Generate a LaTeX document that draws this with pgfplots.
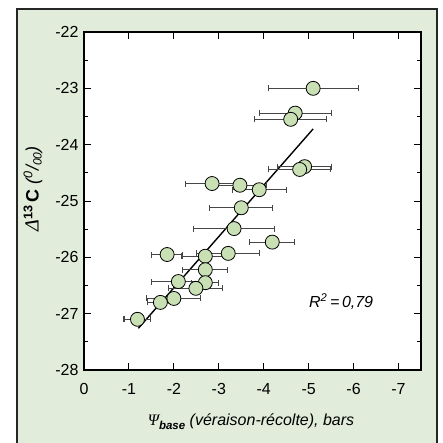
\documentclass[border=0pt]{standalone}
\usepackage{pgfplots}
\pgfplotsset{compat=1.18}
\usepackage{fontspec}
\setmainfont{Liberation Sans}
\newfontfamily\serif{Liberation Serif}
\definecolor{panel}{RGB}{226,236,218}
\definecolor{dotfill}{RGB}{200,224,180}
\definecolor{errgray}{RGB}{70,70,70}

\begin{document}
\begin{tikzpicture}[x=1pt,y=1pt]
\useasboundingbox (0,0) rectangle (442,-443);
\fill[panel] (17,-9) rectangle (437,-460);
\draw[line width=2pt, black!85] (17,-460) -- (17,-9) -- (437,-9) -- (437,-460);

\begin{axis}[
    at={(84pt,-370pt)}, anchor=south west,
    scale only axis,
    width=337pt, height=338pt,
    x dir=reverse,
    xmin=-7.5, xmax=0,
    ymin=-28, ymax=-22,
    xtick={0,-1,-2,-3,-4,-5,-6,-7},
    ytick={-28,-27,-26,-25,-24,-23,-22},
    minor y tick num=1,
    tick align=inside,
    major tick length=7pt,
    minor tick length=4pt,
    axis line style={black, line width=1.4pt},
    tick style={black, line width=1pt},
    axis background/.style={fill=white},
    tick label style={font=\fontsize{16}{18}\selectfont},
    /pgf/number format/assume math mode=true,
    xticklabel style={yshift=-10pt},
    yticklabel style={xshift=-2pt},
    clip=false,
]

% regression line
\addplot[black, line width=1.4pt, no markers] coordinates {(-1.21,-27.26) (-5.10,-23.72)};

\addplot[
    only marks,
    mark=*,
    mark size=7pt,
    mark options={fill=dotfill, draw=black, line width=0.8pt},
    error bars/.cd,
      x dir=both, x explicit,
      error bar style={errgray, line width=1.1pt},
      error mark options={errgray, rotate=90, mark size=3pt, line width=1.1pt},
] table[x=x, y=y, x error=ex] {
x      y       ex
-5.10  -23.00  1.00
-4.70  -23.44  0.80
-4.60  -23.55  0.80
-4.91  -24.39  0.60
-4.80  -24.44  0.69
-2.85  -24.69  0.60
-3.47  -24.72  0.60
-3.90  -24.80  0.60
-3.50  -25.12  0.70
-3.34  -25.49  0.90
-4.19  -25.73  0.50
-1.85  -25.95  0.35
-2.70  -25.98  0.52
-3.21  -25.93  0.70
-2.70  -26.22  0.50
-2.10  -26.43  0.60
-2.70  -26.45  0.30
-2.49  -26.55  0.60
-2.00  -26.73  0.60
-1.70  -26.80  0.28
-1.19  -27.10  0.30
};

\node[anchor=west, font=\fontsize{16}{18}\selectfont\itshape] at (axis cs:-4.93,-26.78) {R\textsuperscript{2}\,=\,0,79};
\end{axis}

\node[font=\fontsize{16}{18}\selectfont] at (251,-422)
  {{\serif\itshape Ψ}\raisebox{-0.45ex}{\fontsize{11.5}{12}\selectfont\bfseries\itshape base} \itshape (véraison-récolte), bars};
\node[rotate=90, font=\fontsize{18}{20}\selectfont] at (33,-189)
  {{\serif\itshape\fontsize{20}{20}\selectfont Δ}\textsuperscript{\bfseries 13}\,\textbf{C} {\itshape(\textsuperscript{0}/\raisebox{-0.3ex}{\fontsize{12}{12}\selectfont 00})}};
\end{tikzpicture}
\end{document}
